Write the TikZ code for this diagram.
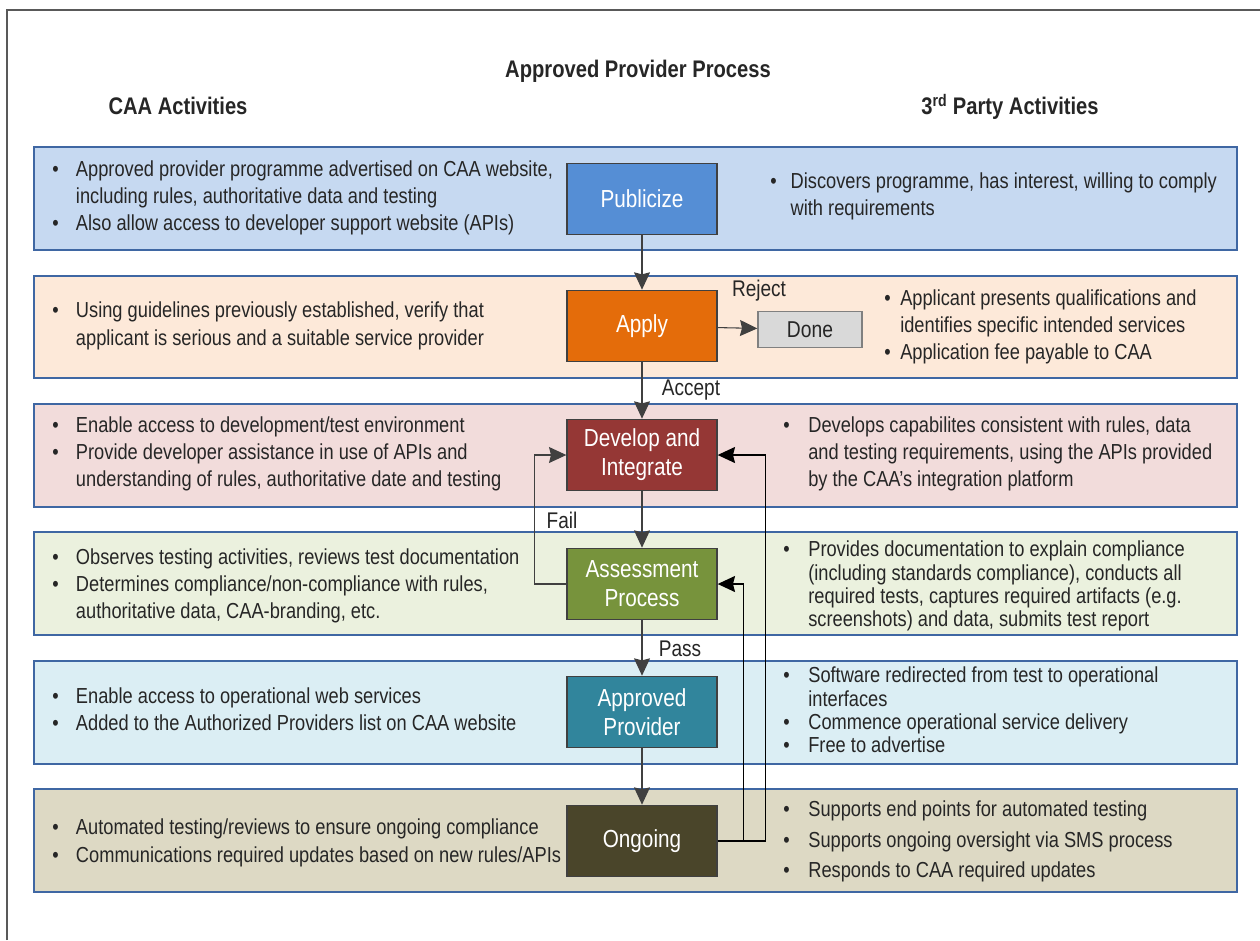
\documentclass[tikz,border=0pt]{standalone}
\usepackage{fontspec}
\setmainfont{Liberation Sans}[FakeStretch=0.84]
\usetikzlibrary{arrows.meta}

\definecolor{bandline}{HTML}{3F67A3}
\definecolor{pubband}{HTML}{C6D9F1}
\definecolor{applyband}{HTML}{FDE9D9}
\definecolor{devband}{HTML}{F2DCDB}
\definecolor{assessband}{HTML}{EBF1DE}
\definecolor{apprband}{HTML}{DBEEF4}
\definecolor{ongoband}{HTML}{DDD9C4}
\definecolor{pubbox}{HTML}{558ED5}
\definecolor{applybox}{HTML}{E46C0A}
\definecolor{devbox}{HTML}{953735}
\definecolor{assessbox}{HTML}{77933C}
\definecolor{apprbox}{HTML}{31859C}
\definecolor{ongobox}{HTML}{4A452A}
\definecolor{donebox}{HTML}{D9D9D9}
\definecolor{boxline}{HTML}{404040}
\definecolor{txtc}{HTML}{262626}

\newcommand{\bulletlist}[2]{\begin{tabular}{@{}l@{\hspace{#1}}l@{}}#2\end{tabular}}

\begin{document}
\begin{tikzpicture}[x=0.75pt,y=-0.75pt,
    band/.style={draw=bandline, line width=2pt},
    procbox/.style={draw=boxline, line width=1pt, minimum width=112.5pt, minimum height=53.5pt,
      text=white, align=center, font=\fontsize{18.5}{21.75}\selectfont},
    flow/.style={draw=boxline, line width=0.8pt, -{Stealth[length=13pt,width=12pt,inset=1.5pt]}},
    back/.style={draw=black, line width=1.1pt, -{Stealth[length=13pt,width=12pt,inset=1.5pt]}},
    lbl/.style={text=txtc, font=\fontsize{17}{20}\selectfont},
    head/.style={text=txtc, font=\bfseries\fontsize{18}{22}\selectfont},
    bul/.style={text=txtc, anchor=west, inner sep=0pt, font=\fontsize{16.3}{#1}\selectfont}]
    \useasboundingbox (0,0) rectangle (1260,940);

    % Outer frame (top and left edges)
    \draw[gray!70!black, line width=1.1pt] (7,940) -- (7,10) -- (1260,10);

    % Headings
    \node[head] (title) at (638,71) {Approved Provider Process};
    \node[head] (caa) at (178,106) {CAA Activities};
    \node[head] (third) at (1010,107) {3\textsuperscript{rd} Party Activities};

    % Bands
    \draw[band, fill=pubband] (34,147) rectangle (1237,250);
    \draw[band, fill=applyband] (34,276) rectangle (1237,378);
    \draw[band, fill=devband] (34,404) rectangle (1237,507);
    \draw[band, fill=assessband] (34,532) rectangle (1237,635);
    \draw[band, fill=apprband] (34,661) rectangle (1237,764);
    \draw[band, fill=ongoband] (34,789) rectangle (1237,892);

    % Process steps
    \node[procbox, fill=pubbox] (pub) at (642,199) {Publicize};
    \node[procbox, fill=applybox] (apply) at (642,326) {Apply};
    \node[procbox, fill=devbox] (dev) at (642,455) {Develop and\\Integrate};
    \node[procbox, fill=assessbox] (assess) at (642,584) {Assessment\\Process};
    \node[procbox, fill=apprbox] (appr) at (642,712) {Approved\\Provider};
    \node[procbox, fill=ongobox] (ongo) at (642,841) {Ongoing};
    \node[draw=gray, fill=donebox, line width=1pt, minimum width=78pt, minimum height=27pt,
      text=txtc, font=\fontsize{17.2}{20}\selectfont] (done) at (810,329.5) {Done};

    % Connectors
    \draw[flow] (pub) -- (apply);
    \draw[flow] (apply) -- (done);
    \draw[flow] (apply) -- (dev);
    \draw[flow] (dev) -- (assess);
    \draw[flow] (assess) -- (appr);
    \draw[flow] (appr) -- (ongo);
    \draw[flow] (assess.west) -- ++(-32,0) |- (dev.west);
    \draw[back] (ongo.east) -- ++(48,0) |- (dev.east);
    \draw[back] (ongo.east) -- ++(26,0) |- (assess.east);

    % Connector labels
    \node[lbl] (reject) at (759,291) {Reject};
    \node[lbl] (accept) at (691,390) {Accept};
    \node[lbl] (fail) at (562,520) {Fail};
    \node[lbl] (pass) at (680,649) {Pass};

    % CAA activities
    \node[bul=20.6pt] (caa1) at (52,198) {\bulletlist{13pt}{%
      \textbullet & Approved provider programme advertised on CAA website,\\
      & including rules, authoritative data and testing\\
      \textbullet & Also allow access to developer support website (APIs)}};
    \node[bul=21pt] (caa2) at (52,326) {\bulletlist{13pt}{%
      \textbullet & Using guidelines previously established, verify that\\
      & applicant is serious and a suitable service provider}};
    \node[bul=20.25pt] (caa3) at (52,454) {\bulletlist{13pt}{%
      \textbullet & Enable access to development/test environment\\
      \textbullet & Provide developer assistance in use of APIs and\\
      & understanding of rules, authoritative date and testing}};
    \node[bul=20.25pt] (caa4) at (52,586) {\bulletlist{13pt}{%
      \textbullet & Observes testing activities, reviews test documentation\\
      \textbullet & Determines compliance/non-compliance with rules,\\
      & authoritative data, CAA-branding, etc.}};
    \node[bul=20.25pt] (caa5) at (52,712) {\bulletlist{13pt}{%
      \textbullet & Enable access to operational web services\\
      \textbullet & Added to the Authorized Providers list on CAA website}};
    \node[bul=21pt] (caa6) at (52,843) {\bulletlist{13pt}{%
      \textbullet & Automated testing/reviews to ensure ongoing compliance\\
      \textbullet & Communications required updates based on new rules/APIs}};

    % 3rd party activities
    \node[bul=20.25pt] (tp1) at (770,197) {\bulletlist{10.5pt}{%
      \textbullet & Discovers programme, has interest, willing to comply\\
      & with requirements}};
    \node[bul=20pt] (tp2) at (884,327) {\bulletlist{7.2pt}{%
      \textbullet & Applicant presents qualifications and\\
      & identifies specific intended services\\
      \textbullet & Application fee payable to CAA}};
    \node[bul=20.25pt] (tp3) at (783,454) {\bulletlist{14pt}{%
      \textbullet & Develops capabilites consistent with rules, data\\
      & and testing requirements, using the APIs provided\\
      & by the CAA’s integration platform}};
    \node[bul=17.5pt] (tp4) at (783,587) {\bulletlist{14pt}{%
      \textbullet & Provides documentation to explain compliance\\
      & (including standards compliance), conducts all\\
      & required tests, captures required artifacts (e.g.\\
      & screenshots) and data, submits test report}};
    \node[bul=17.5pt] (tp5) at (783,713) {\bulletlist{14pt}{%
      \textbullet & Software redirected from test to operational\\
      & interfaces\\
      \textbullet & Commence operational service delivery\\
      \textbullet & Free to advertise}};
    \node[bul=22.9pt] (tp6) at (783,841) {\bulletlist{14pt}{%
      \textbullet & Supports end points for automated testing\\
      \textbullet & Supports ongoing oversight via SMS process\\
      \textbullet & Responds to CAA required updates}};
\end{tikzpicture}
\end{document}
